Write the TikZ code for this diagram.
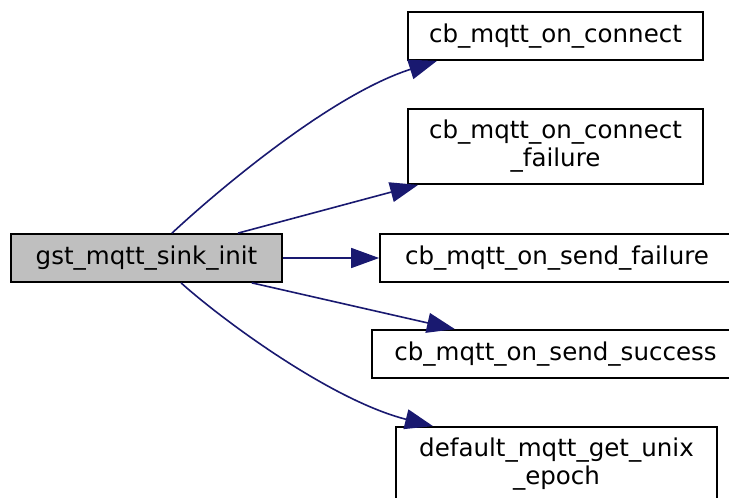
\documentclass[tikz,border=0pt]{standalone}
\usepackage{fontspec}
\setmainfont{DejaVu Sans}
\usetikzlibrary{arrows.meta}
\definecolor{edgeblue}{HTML}{191970}
\definecolor{callergray}{HTML}{BFBFBF}

\begin{document}
\begin{tikzpicture}[x=0.75pt,y=-0.75pt,
    every node/.style={font=\fontsize{18.4pt}{21pt}\selectfont},
    fn/.style={draw, line width=1.3pt, inner sep=0pt, align=center, minimum height=36pt},
    call/.style={draw=edgeblue, line width=1.2pt, -{Triangle[length=21pt,width=15pt]}}]
                \useasboundingbox (0,0) rectangle (729,497);
                \clip (0,0) rectangle (729,497);
                \node[fn, fill=callergray, minimum width=203.25pt] (gst) at (146.5,258) {gst\_mqtt\_sink\_init};
                \node[fn, minimum width=221.25pt] (conn) at (555.5,36) {cb\_mqtt\_on\_connect};
                \node[fn, minimum width=221.25pt, minimum height=56.25pt] (connf) at (555.5,146.5)
                {cb\_mqtt\_on\_connect\\\_failure};
                \node[fn, minimum width=265.5pt] (sendf) at (557,258) {cb\_mqtt\_on\_send\_failure};
                \node[fn, minimum width=275.25pt] (sends) at (555.5,354) {cb\_mqtt\_on\_send\_success};
                \node[fn, minimum width=240.75pt, minimum height=56.25pt] (epoch) at (556.5,464.5)
                {default\_mqtt\_get\_unix\\\_epoch};
                \draw[call] ([xshift=19.1pt]gst.north) .. controls (215,193) and (330,95) .. ([xshift=-88.9pt]conn.south);
                \draw[call] ([xshift=68.6pt]gst.north) -- ([xshift=-103pt]connf.south);
                \draw[call] (gst) -- (sendf);
                \draw[call] ([xshift=79pt]gst.south) -- ([xshift=-75.4pt]sends.north);
                \draw[call] ([xshift=25.9pt]gst.south) .. controls (220,318) and (330,400) .. ([xshift=-92.6pt]epoch.north);
            \end{tikzpicture}
\end{document}
